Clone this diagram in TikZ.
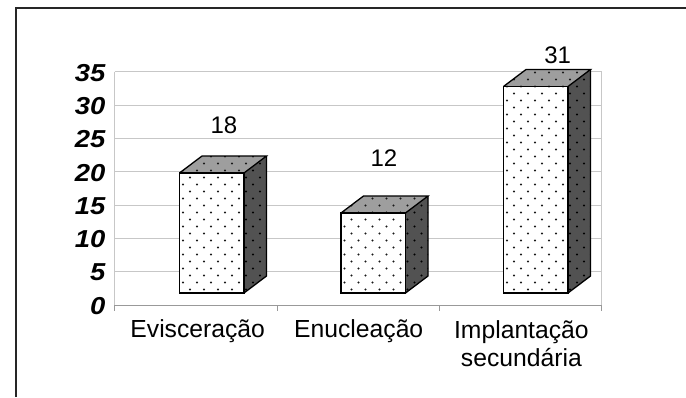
\documentclass[tikz,border=0pt]{standalone}
\usepackage{fontspec}
\setmainfont{Liberation Sans}
\newcommand\dotfield[4]{% #1 left, #2 bottom, #3 colour, #4 radius
  \foreach \j in {0,...,36} {
    \pgfmathsetmacro\off{mod(\j,2)*7}
    \foreach \i in {0,...,7} {
      \fill[#3] (#1+3.5+\off+14*\i-7, #2-3.5-7*\j) circle (#4);
    }
  }
}
\newcommand\drawbox[4]{% #1 left x, #2 top y, #3 name, #4 bottom
  \begin{scope}
    \path[frontface] (#1,#4) rectangle (#1+64.5,#2);
    \clip (#1,#4) rectangle (#1+64.5,#2);
    \dotfield{#1}{#4}{black!90}{1.1}
  \end{scope}
  \begin{scope}
    \path[topface] (#1,#2) -- (#1+22.5,#2-17) -- (#1+87,#2-17) -- (#1+64.5,#2) -- cycle;
    \clip (#1,#2) -- (#1+22.5,#2-17) -- (#1+87,#2-17) -- (#1+64.5,#2) -- cycle;
    \dotfield{#1}{#4}{black!90}{1.1}
  \end{scope}
  \begin{scope}
    \path[sideface] (#1+64.5,#2) -- (#1+87,#2-17) -- (#1+87,#4-17) -- (#1+64.5,#4) -- cycle;
    \clip (#1+64.5,#2) -- (#1+87,#2-17) -- (#1+87,#4-17) -- (#1+64.5,#4) -- cycle;
    \dotfield{#1}{#4}{black}{1.1}
  \end{scope}
  \draw[boxedge] (#1,#4) rectangle (#1+64.5,#2);
  \draw[boxedge] (#1,#2) -- (#1+22.5,#2-17) -- (#1+87,#2-17) -- (#1+64.5,#2);
  \draw[boxedge] (#1+87,#2-17) -- (#1+87,#4-17) -- (#1+64.5,#4);
  \coordinate (#3) at (#1+32.25,#2);
}
\begin{document}
\begin{tikzpicture}[x=1pt,y=-1pt,
  frame/.style={line width=1.6pt,black!85},
  gridline/.style={line width=0.8pt,black!22},
  axisline/.style={line width=0.9pt,black!40},
  frontface/.style={fill=white},
  topface/.style={fill=black!38},
  sideface/.style={fill=black!68},
  boxedge/.style={line width=1.3pt,black,line join=miter},
  ylab/.style={anchor=east,font=\fontsize{24.5}{24.5}\selectfont\bfseries\itshape,xscale=1.12,inner xsep=0pt},
  vlab/.style={font=\fontsize{24}{24}\selectfont},
  clab/.style={font=\fontsize{24.7}{28.6}\selectfont,align=center}]
\useasboundingbox (0,0) rectangle (686,397);
\draw[frame] (16,397) -- (16,8) -- (686,8);
% grid
\foreach \v in {5,10,...,35} {
  \draw[gridline] (114.6,305-\v*6.667) -- (601.5,305-\v*6.667);
}
\draw[gridline] (114.6,71.7) -- (114.6,305);
\draw[gridline] (601.5,71.7) -- (601.5,305);
\draw[axisline] (114.6,305) -- (601.5,305);
\foreach \x in {114.6,277,439,601.5} {
  \draw[axisline] (\x,305) -- (\x,311);
}
% y labels
\foreach \v in {0,5,...,35} {
  \node[ylab] (y\v) at (105.5,306-\v*6.667) {\v};
}
% bars
\drawbox{179.5}{173}{b1}{293}
\drawbox{341}{213}{b2}{293}
\drawbox{503.5}{86.5}{b3}{293}
% value labels
\node[vlab] (v1) at (224,125) {18};
\node[vlab] (v2) at (384,158.3) {12};
\node[vlab] (v3) at (557.7,55) {31};
% category labels
\node[clab] (c1) at (197.7,331.5) {Evisceração};
\node[clab] (c2) at (358.7,331.5) {Enucleação};
\node[clab] (c3) at (521.4,343.5) {Implantação\\secundária};
\end{tikzpicture}
\end{document}
